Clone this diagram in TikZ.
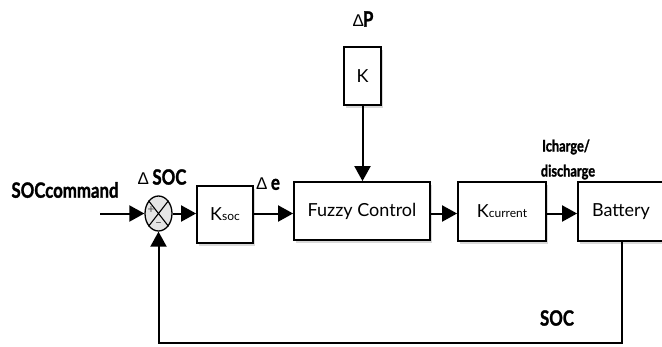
\documentclass[tikz,border=0pt]{standalone}
\usepackage{fontspec}
\setmainfont{Lato}
\newfontfamily\symf{Liberation Sans}
\newfontfamily\heavy[FakeBold=1.6]{Lato Bold}
\usetikzlibrary{arrows.meta,shadows,shapes.geometric}
\newcommand\cond[1]{\scalebox{0.8}[1]{#1}}
\newcommand\dlt{{\symf\fontsize{17}{17}\selectfont Δ}}
\begin{document}
\begin{tikzpicture}[x=1pt,y=-1pt,
  blk/.style={draw,line width=1.8pt,fill=white,inner sep=0pt,
    drop shadow={opacity=0.3,shadow xshift=2pt,shadow yshift=-3pt},
    font=\fontsize{18}{18}\selectfont},
  arr/.style={line width=2pt,-{Triangle[length=15pt,width=16pt]}},
  lbl/.style={font=\fontsize{21}{21}\selectfont\heavy,inner sep=0pt},
  lbls/.style={font=\fontsize{16}{16}\selectfont\heavy,inner sep=0pt}
]
\useasboundingbox (0,0) rectangle (662,346);

% blocks
\node[blk,minimum width=56pt,minimum height=57pt] (ksoc) at (225,214.5) {K\fontsize{12}{12}\selectfont soc};
\node[blk,minimum width=136pt,minimum height=58pt] (fuzzy) at (362,211) {Fuzzy Control};
\node[blk,minimum width=88pt,minimum height=59pt] (kcur) at (502,211.5) {K\fontsize{12}{12}\selectfont current};
\node[blk,minimum width=86pt,minimum height=59pt,text width=58pt,align=left] (batt) at (621,211.5) {Battery};
\node[blk,minimum width=37pt,minimum height=58pt] (k) at (362.5,76) {K};

% summing junction
\node[ellipse,draw,line width=1.3pt,fill=gray!20,minimum width=27pt,minimum height=35pt,inner sep=0pt] (sum) at (158.5,213.5) {};
\draw[line width=1.1pt] (sum.north east) -- (sum.south west) (sum.north west) -- (sum.south east);
\node[font=\fontsize{12}{12}\selectfont,text=black!70,inner sep=0pt] (plus) at (151,210) {+};
\node[font=\fontsize{12}{12}\selectfont,text=black!70,inner sep=0pt] (minus) at (158.5,225) {--};

% connectors
\coordinate (in) at (100,213.5);
\draw[arr] (in) -- (sum.west);
\draw[arr] (sum.east) -- (ksoc.west|-sum.east);
\draw[arr] (ksoc.east|-sum.east) -- (fuzzy.west|-sum.east);
\draw[arr] (fuzzy.east|-sum.east) -- (kcur.west|-sum.east);
\draw[arr] (kcur.east|-sum.east) -- (batt.west|-sum.east);
\draw[arr] (k.south) -- (fuzzy.north-|k.south);

% feedback
\coordinate (c1) at (622,343);
\draw[arr] (c1|-batt.south) -- (c1) -| (sum.south);

% labels
\node[lbl] (lcmd) at (65,190) {\cond{SOCcommand}};
\node[lbl] (ldsoc) at (162,177) {\dlt\,\cond{SOC}};
\node[lbl] (lde) at (268,184) {\dlt\,\cond{e}};
\node[lbl] (ldp) at (363,19) {\dlt\kern-1pt\cond{P}};
\node[lbls] (lich) at (566,147) {\cond{Icharge/}};
\node[lbls] (ldis) at (568,172) {\cond{discharge}};
\node[lbl] (lsoc) at (557,318) {\cond{SOC}};
\end{tikzpicture}
\end{document}
